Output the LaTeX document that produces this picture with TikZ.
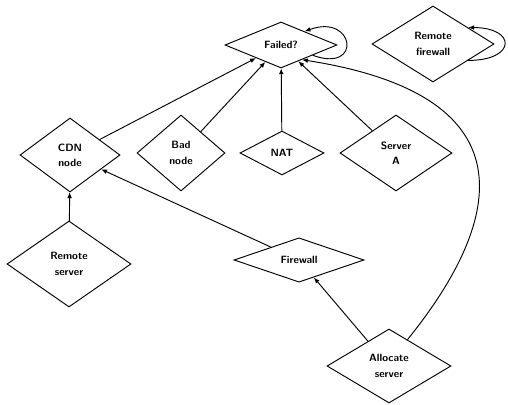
\documentclass[tikz,border=0pt]{standalone}
\usetikzlibrary{arrows.meta,shapes.geometric}

\begin{document}
\begin{tikzpicture}[x=0.03cm,y=-0.03cm,>={Latex[length=5pt,width=4pt]},line width=0.8pt,
  state/.style={draw,diamond,inner sep=0pt,align=center,font=\sffamily\bfseries\small},
  dsize/.style 2 args={minimum width=#1*0.03cm,minimum height=#2*0.03cm}]
  \useasboundingbox (0,0) rectangle (508,405);

  \node[state,dsize={112}{46}] (failed) at (281,45) {Failed?};
  \node[state,dsize={122}{76}] (remfw) at (433,44) {Remote\\[2pt]firewall};
  \node[state,dsize={100}{74}] (cdn) at (70,155) {CDN\\[2pt]node};
  \node[state,dsize={88}{76}] (bad) at (181,153) {Bad\\[2pt]node};
  \node[state,dsize={84}{44}] (nat) at (282,153) {NAT};
  \node[state,dsize={112}{76}] (srva) at (396,153) {Server\\[2pt]A};
  \node[state,dsize={124}{86}] (remsrv) at (69,264) {Remote\\[2pt]server};
  \node[state,dsize={130}{44}] (fw) at (299,260) {Firewall};
  \node[state,dsize={124}{74}] (alloc) at (389,366) {Allocate\\[2pt]server};

  \draw[->] (cdn) -- (failed);
  \draw[->] (bad) -- (failed);
  \draw[->] (nat) -- (failed);
  \draw[->] (srva) -- (failed);
  \draw[->] (remsrv) -- (cdn);
  \draw[->] (fw) -- (cdn);
  \draw[->] (alloc) -- (fw);
  \draw[->] (alloc.55) .. controls (480,250) and (560,100) .. (failed.-35);

  % self loops
  \draw[->] (failed.-18) to[out=-20,in=20,distance=1.6cm] (failed.30);
  \draw[->] (remfw.-25) to[out=0,in=0,distance=1.45cm] (remfw.25);
\end{tikzpicture}
\end{document}
